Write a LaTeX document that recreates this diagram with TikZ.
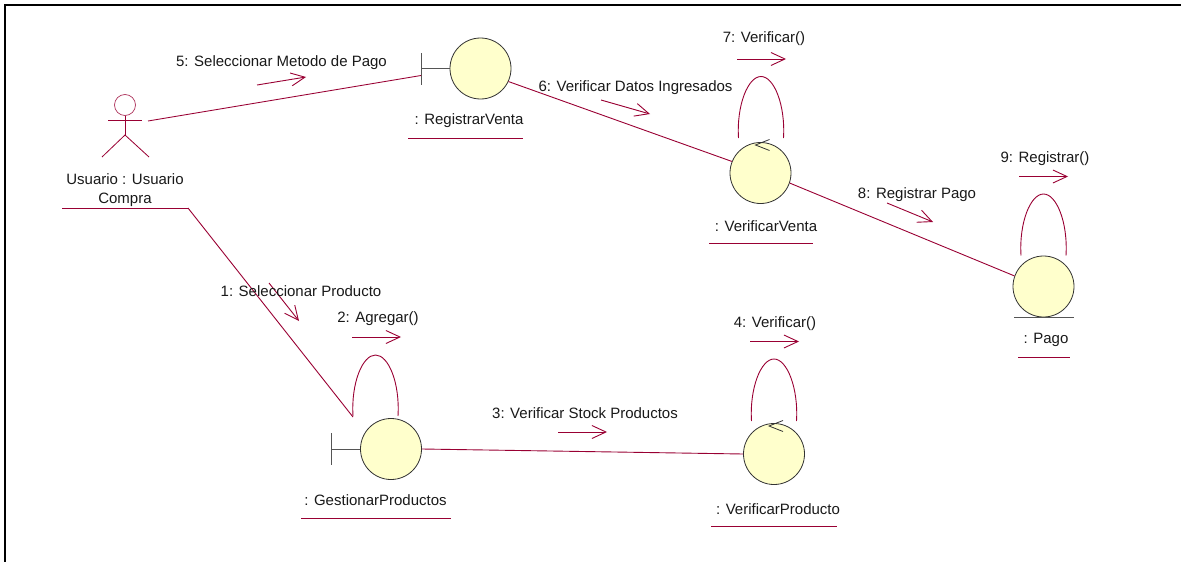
\documentclass[tikz,border=0pt]{standalone}
\usepackage{fontspec}
\setmainfont{Liberation Sans}
\usetikzlibrary{arrows.meta}
\definecolor{umlred}{HTML}{990033}
\definecolor{umlfill}{HTML}{FFFFCC}
\definecolor{umlgrey}{HTML}{555555}
% #1 node, #2 x offset of the loop axis, #3 y offset of the feet, #4 y offset of the top
\newcommand{\selfloop}[4]{%
  \begin{scope}[shift={(#1.center)}]
    \draw[link] (#2-22.5,#3) .. controls (#2-24.5,#3-33) and (#2-13,#4) .. (#2,#4)
      .. controls (#2+13,#4) and (#2+24.5,#3-33) .. (#2+22.5,#3);
  \end{scope}}
\newcommand{\ctrlmark}[1]{%
  \begin{scope}[shift={(#1.center)}]
    \draw[umlgrey!60!black,line width=.8pt] (9,-33.5) -- (-5,-28) -- (9,-22.5);
  \end{scope}}
\tikzset{
  x=1pt,y=-1pt,
  link/.style={draw=umlred,line width=.9pt},
  msg/.style={draw=umlred,line width=.9pt,-{Straight Barb[length=14pt,width=13pt,line width=.9pt]}},
  obj/.style={circle,draw=black!80,fill=umlfill,line width=.8pt,minimum size=61pt,inner sep=0pt},
  stem/.style={draw=umlgrey,line width=1pt},
  lab/.style={font=\fontsize{15}{19}\selectfont,text=black!90,inner sep=0pt,align=center,yshift=-1pt},
  uline/.style={draw=umlred,line width=.9pt},
}
\begin{document}
\begin{tikzpicture}
\useasboundingbox (0,0) rectangle (1181,562);
% frame
\draw[black,line width=2pt] (5,562) -- (5,4.5) -- (1181,4.5);

% objects
\node[obj] (rv) at (480.5,68.5) {};
\node[obj] (vv) at (760.5,173) {};
\node[obj] (pg) at (1043.5,286.5) {};
\node[obj] (gp) at (391,449) {};
\node[obj] (vp) at (774,454) {};

% actor
\node[circle,draw=umlred!80,line width=.7pt,minimum size=21pt,inner sep=0pt] (head) at (125,105) {};
\coordinate (hip) at (125,135);
\coordinate (armL) at (108,120);
\coordinate (armR) at (142,120);
\coordinate (legL) at (102,157);
\coordinate (legR) at (149,157);
\draw[link,line width=.8pt] (head.south) -- (hip);
\draw[link,line width=.8pt] (armL) -- (armR);
\draw[link,line width=.8pt] (legL) -- (hip) -- (legR);

% boundary markers
\coordinate (rvb) at (421,68.5);
\coordinate (rvb1) at (421,53);
\coordinate (rvb2) at (421,85);
\draw[stem] (rvb1) -- (rvb2);
\draw[stem] (rvb) -- (rv.west);
\coordinate (gpb) at (331,449);
\coordinate (gpb1) at (331,433);
\coordinate (gpb2) at (331,465);
\draw[stem] (gpb1) -- (gpb2);
\draw[stem] (gpb) -- (gp.west);
% entity ground line
\coordinate (pg1) at (1014,317);
\coordinate (pg2) at (1074,317);
\draw[stem] (pg1) -- (pg2);

% labels of objects
\node[lab] (lu) at (125,189.5) {Usuario : Usuario\\Compra};
\node[lab] (lrv) at (469,120) {: RegistrarVenta};
\node[lab] (lvv) at (766,225) {: VerificarVenta};
\node[lab] (lpg) at (1046,339) {: Pago};
\node[lab] (lgp) at (375.5,499) {: GestionarProductos};
\node[lab] (lvp) at (778,508) {: VerificarProducto};

% underlines
\coordinate (u1a) at (62,208);   \coordinate (u1b) at (188,208);
\coordinate (u2a) at (408,138);  \coordinate (u2b) at (523,138);
\coordinate (u3a) at (709,243);  \coordinate (u3b) at (813,243);
\coordinate (u4a) at (1018,357); \coordinate (u4b) at (1070,357);
\coordinate (u5a) at (301,518);  \coordinate (u5b) at (451,518);
\coordinate (u6a) at (711,526);  \coordinate (u6b) at (837,526);
\draw[uline] (u1a) -- (u1b);
\draw[uline] (u2a) -- (u2b);
\draw[uline] (u3a) -- (u3b);
\draw[uline] (u4a) -- (u4b);
\draw[uline] (u5a) -- (u5b);
\draw[uline] (u6a) -- (u6b);

% links
\coordinate (ua) at (148,121);
\coordinate (rvin) at (421,75.5);
\coordinate (gpin) at (353,417);
\draw[link] (ua) -- (rvin);
\draw[link] (u1b) -- (gpin);
\draw[link] (rv.-25) -- (vv.158);
\draw[link] (vv.-19) -- (pg.160);
\draw[link] (gp.east) -- (vp.west);

% self loops
\selfloop{vv}{0.5}{-35}{-96.5}
\selfloop{pg}{0}{-31}{-92.5}
\selfloop{gp}{-15.5}{-33}{-94}
\selfloop{vp}{0}{-33}{-95}
\ctrlmark{vv}
\ctrlmark{vp}

% message arrows
\coordinate (m1a) at (269,283); \coordinate (m1b) at (299,321);
\coordinate (m2a) at (352,337); \coordinate (m2b) at (401,337);
\coordinate (m3a) at (558,432); \coordinate (m3b) at (607,432);
\coordinate (m4a) at (750,341.5); \coordinate (m4b) at (799,341.5);
\coordinate (m5a) at (257,85); \coordinate (m5b) at (306,77);
\coordinate (m6a) at (601,100); \coordinate (m6b) at (650,114);
\coordinate (m7a) at (737,59); \coordinate (m7b) at (786,59);
\coordinate (m8a) at (887,203); \coordinate (m8b) at (933,222);
\coordinate (m9a) at (1019,176.5); \coordinate (m9b) at (1068,176.5);
\foreach \m in {1,...,9} \draw[msg] (m\m a) -- (m\m b);

% message labels
\node[lab] (t1) at (301,290) {1: Seleccionar Producto};
\node[lab] (t2) at (378,318) {2: Agregar()};
\node[lab] (t3) at (585,412) {3: Verificar Stock Productos};
\node[lab] (t4) at (775,323) {4: Verificar()};
\node[lab] (t5) at (281.5,62) {5: Seleccionar Metodo de Pago};
\node[lab] (t6) at (635.5,87) {6: Verificar Datos Ingresados};
\node[lab] (t7) at (764,38) {7: Verificar()};
\node[lab] (t8) at (917,194) {8: Registrar Pago};
\node[lab] (t9) at (1045,158) {9: Registrar()};
\end{tikzpicture}
\end{document}
